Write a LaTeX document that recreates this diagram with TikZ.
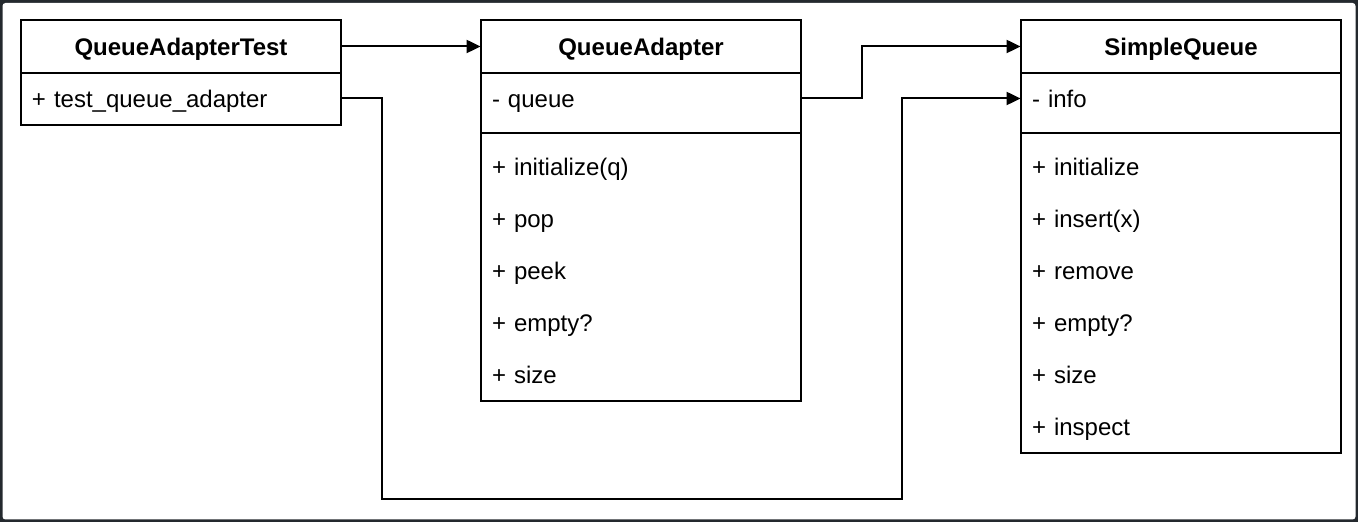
\documentclass[tikz,border=0pt]{standalone}
\usepackage{fontspec}
\setmainfont{Liberation Sans}
\usepackage{xcolor}
\usepackage{tikz}
\usetikzlibrary{arrows.meta, calc}
\definecolor{frame}{HTML}{24292E}
\tikzset{
  row/.style={minimum width=160pt, minimum height=26pt, inner xsep=5.5pt, inner ysep=0pt,
    text width=149pt, align=left, text height=10.5pt, text depth=1.5pt,
    font=\fontsize{12}{14}\selectfont},
  head/.style={row, align=center, font=\fontsize{12}{14}\selectfont\bfseries},
  box/.style={line width=1pt, draw=black},
  link/.style={line width=1pt, draw=black, -{Triangle[length=7pt, width=6.5pt]}}
}
\begin{document}
\begin{tikzpicture}[x=0.5pt, y=-0.5pt]
\useasboundingbox (0,0) rectangle (1358,522);
\fill[frame] (0,0) rectangle (1358,522);
\fill[white, rounded corners=1.5pt] (2.5,3) rectangle (1355.5,519.5);

\node[head] (qatname) at (181, 46.5) {QueueAdapterTest};
\node[row] (qattest) at (181, 98.5) {+ test\_queue\_adapter};

\node[head] (qaname) at (641, 46.5) {QueueAdapter};
\node[row] (qaqueue) at (641, 98.5) {- queue};
\node[row] (qainit) at (641, 167) {+ initialize(q)};
\node[row] (qapop) at (641, 219) {+ pop};
\node[row] (qapeek) at (641, 271) {+ peek};
\node[row] (qaempty) at (641, 323) {+ empty?};
\node[row] (qasize) at (641, 375) {+ size};

\node[head] (sqname) at (1181, 46.5) {SimpleQueue};
\node[row] (sqinfo) at (1181, 98.5) {- info};
\node[row] (sqinit) at (1181, 167) {+ initialize};
\node[row] (sqinsert) at (1181, 219) {+ insert(x)};
\node[row] (sqremove) at (1181, 271) {+ remove};
\node[row] (sqempty) at (1181, 323) {+ empty?};
\node[row] (sqsize) at (1181, 375) {+ size};
\node[row] (sqinspect) at (1181, 427) {+ inspect};

\draw[box] (qatname.north west) rectangle (qattest.south east);
\draw[box] (qatname.south west) -- (qatname.south east);

\draw[box] (qaname.north west) rectangle (qasize.south east);
\draw[box] (qaname.south west) -- (qaname.south east);
\draw[box] ($(qaqueue.south west)!0.5!(qainit.north west)$) -- ($(qaqueue.south east)!0.5!(qainit.north east)$);

\draw[box] (sqname.north west) rectangle (sqinspect.south east);
\draw[box] (sqname.south west) -- (sqname.south east);
\draw[box] ($(sqinfo.south west)!0.5!(sqinit.north west)$) -- ($(sqinfo.south east)!0.5!(sqinit.north east)$);

\coordinate (turn) at (902, 499);
\draw[link] (qatname.east) -- (qaname.west);
\draw[link] (qaqueue.east) -- ++(61,0) |- (sqname.west);
\draw[link] (qattest.east) -- ++(41,0) |- (turn) |- (sqinfo.west);
\end{tikzpicture}
\end{document}
